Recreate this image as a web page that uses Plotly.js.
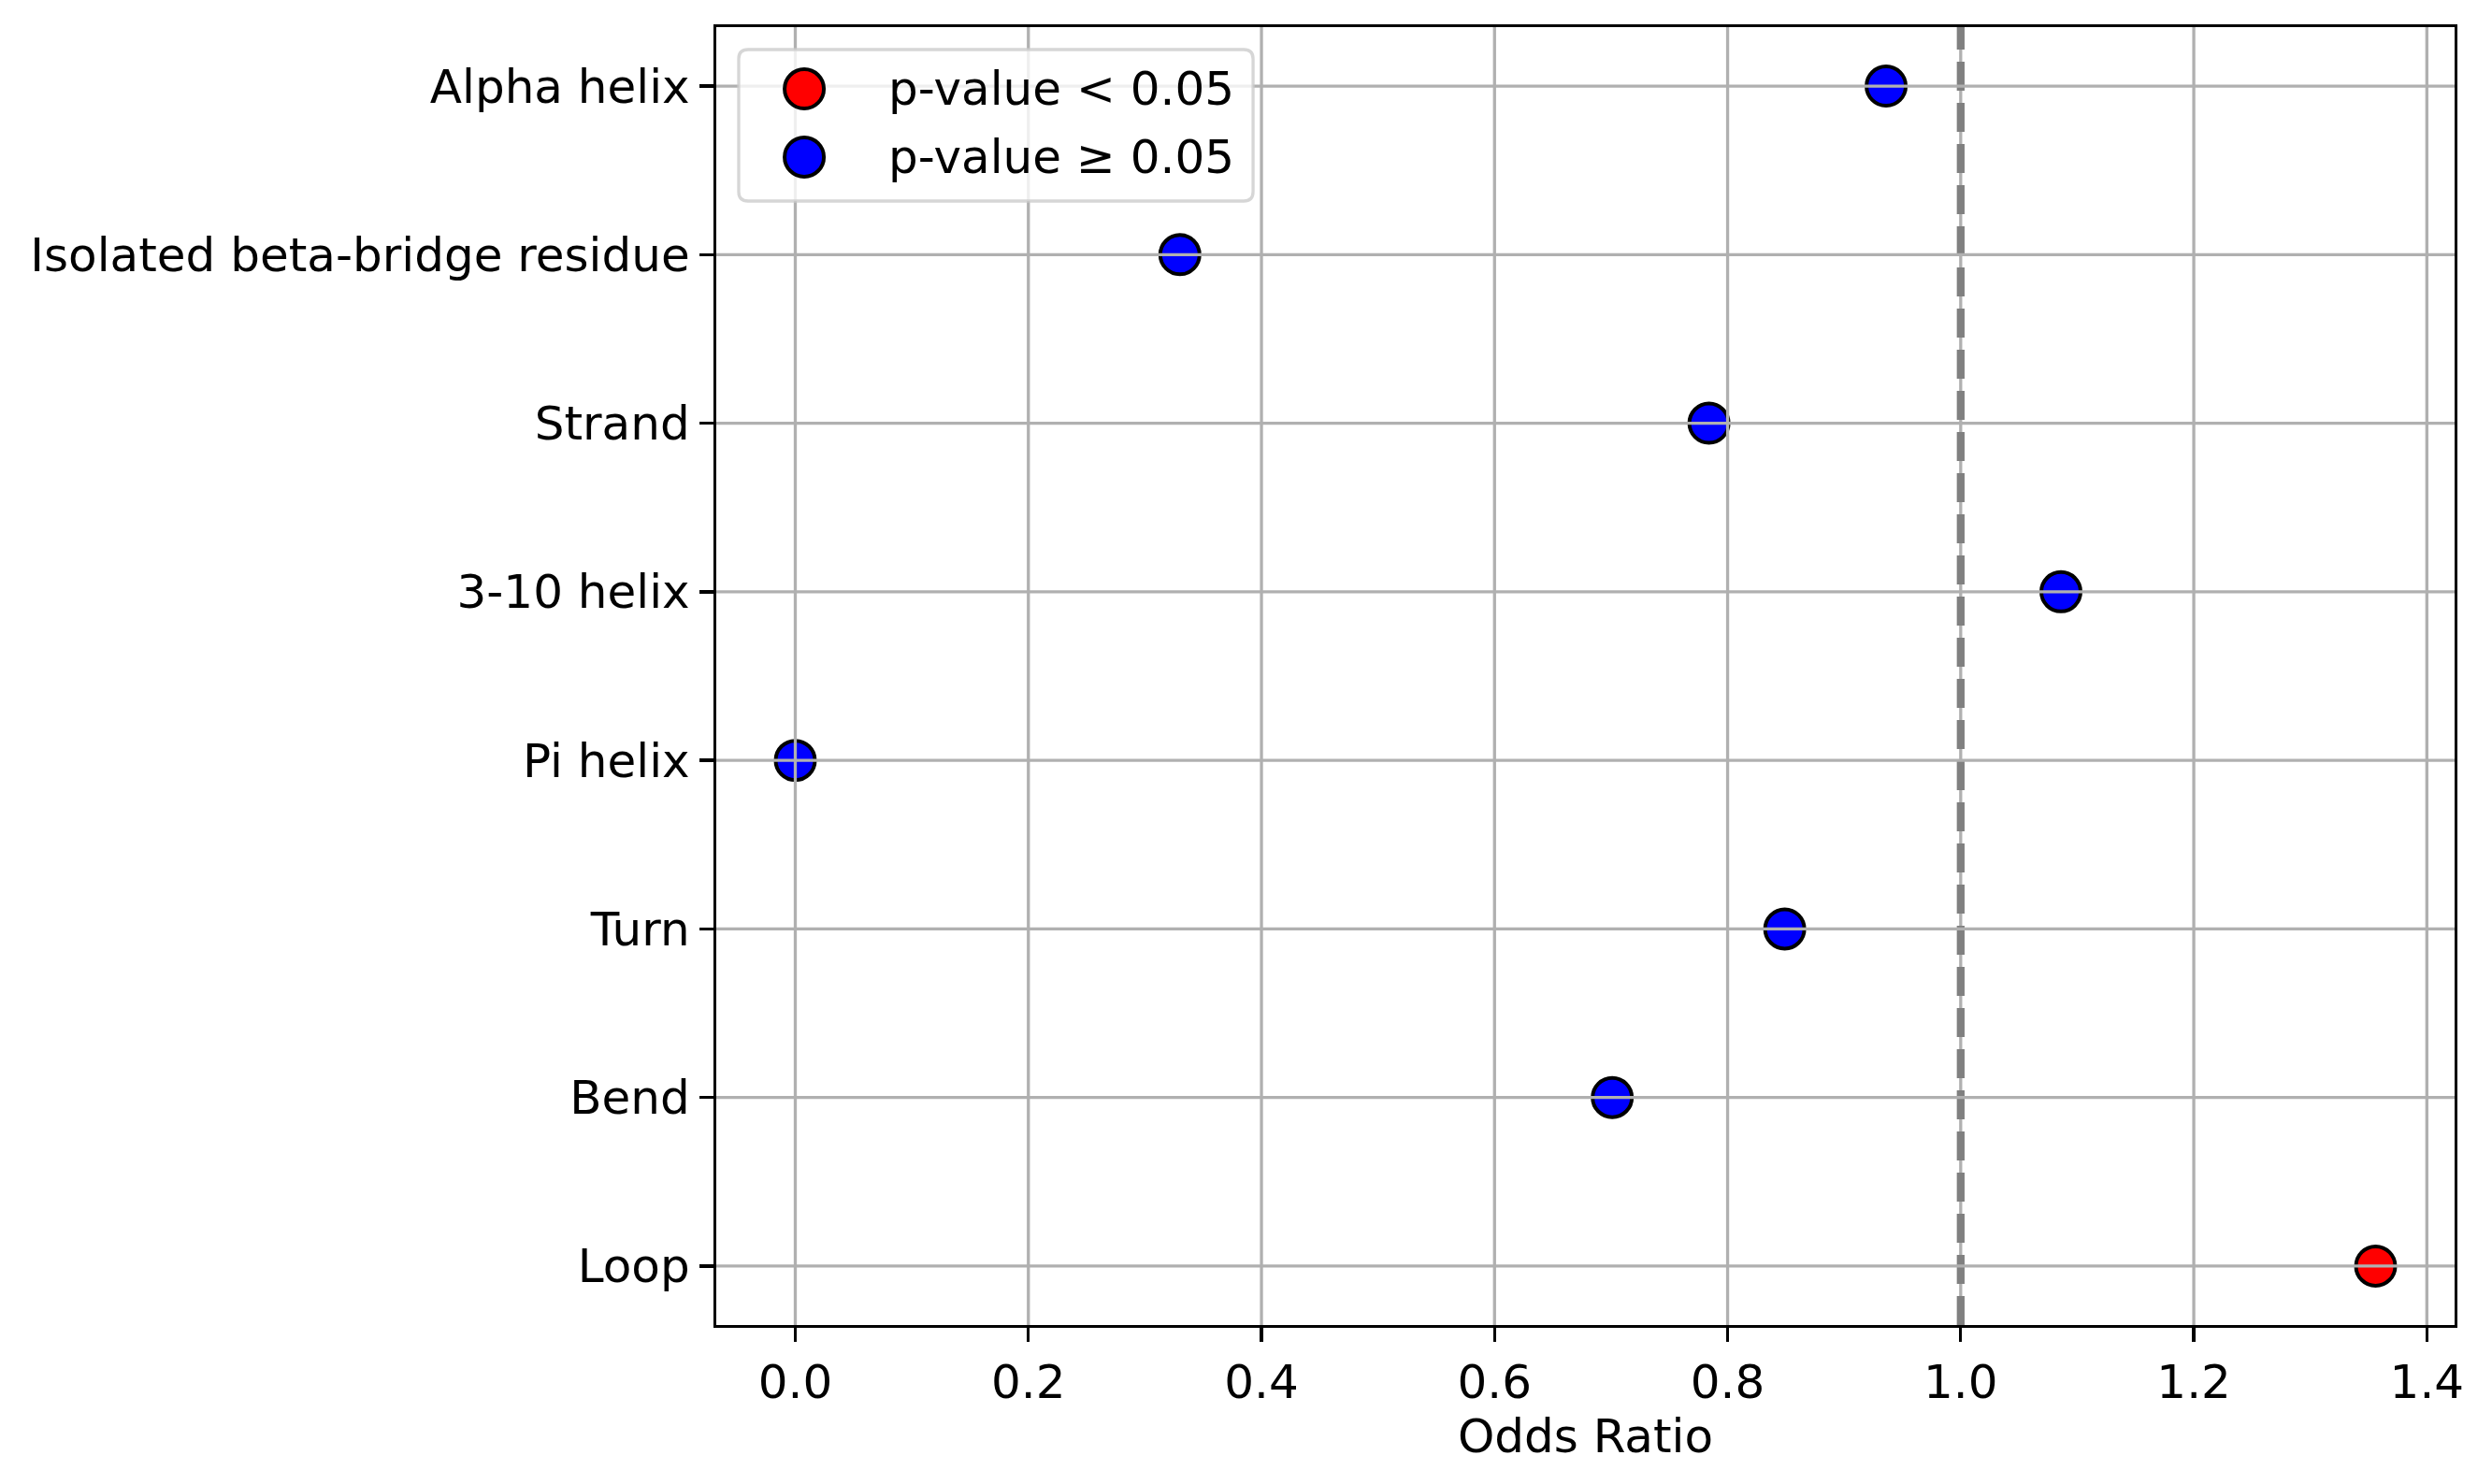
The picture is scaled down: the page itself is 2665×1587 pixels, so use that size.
<!DOCTYPE html>
<html>
<head>
<meta charset="utf-8">
<script src="https://cdn.plot.ly/plotly-3.0.1.min.js"></script>
<style>
  html, body { margin: 0; padding: 0; background: #ffffff; }
  #grafica { width: 2665px; height: 1587px; }
</style>
</head>
<body>
<div id="grafica"></div>
<script>
// datos (de arriba a abajo)
var categorias = ['Alpha helix', 'Isolated beta-bridge residue', 'Strand', '3-10 helix',
                  'Pi helix', 'Turn', 'Bend', 'Loop'];
var oddsRatio = [0.936, 0.330, 0.784, 1.086, 0.0, 0.849, 0.701, 1.356];
var significativo = [false, false, false, false, false, false, false, true];
var xTicks = [0.0, 0.2, 0.4, 0.6, 0.8, 1.0, 1.2, 1.4];
var etiquetasLeyenda = ['p-value < 0.05', 'p-value \u2265 0.05'];
var lineaReferencia = 1.0;

var fuente = { family: 'DejaVu Sans', size: 50, color: '#000000' };
var gris = '#b0b0b0';

// una traza por grupo de significancia
function crearTraza(sig, color) {
    var x = [], y = [];
    for (var i = 0; i < categorias.length; i++) {
        if (significativo[i] === sig) {
            x.push(oddsRatio[i]);
            y.push(categorias[i]);
        }
    }
    return {
        x: x, y: y,
        type: 'scatter',
        mode: 'markers',
        marker: { size: 42, color: color, line: { color: '#000000', width: 4 } },
        showlegend: false,
        hoverinfo: 'x+y'
    };
}

var data = [crearTraza(true, '#ff0000'), crearTraza(false, '#0000ff')];

// rejilla por encima de los puntos (como en la figura original)
var shapes = [];
xTicks.forEach(function (t) {
    shapes.push({
        type: 'line', layer: 'above',
        xref: 'x', yref: 'paper',
        x0: t, x1: t, y0: 0, y1: 1,
        line: { color: gris, width: 3.3 }
    });
});
// linea discontinua en OR = 1
shapes.push({
    type: 'line', layer: 'above',
    xref: 'x', yref: 'paper',
    x0: lineaReferencia, x1: lineaReferencia, y0: 0, y1: 1,
    line: { color: '#808080', width: 8.3, dash: '31px,13px' }
});
categorias.forEach(function (c) {
    shapes.push({
        type: 'line', layer: 'above',
        xref: 'paper', yref: 'y',
        x0: 0, x1: 1, y0: c, y1: c,
        line: { color: gris, width: 3.3 }
    });
});

// leyenda dibujada a mano para tener simbolos del mismo tamaño que en la figura
function rectRedondeado(x0, y0, x1, y1, rx, ry) {
    return 'M ' + (x0 + rx) + ',' + y1 +
        ' L ' + (x1 - rx) + ',' + y1 +
        ' Q ' + x1 + ',' + y1 + ' ' + x1 + ',' + (y1 - ry) +
        ' L ' + x1 + ',' + (y0 + ry) +
        ' Q ' + x1 + ',' + y0 + ' ' + (x1 - rx) + ',' + y0 +
        ' L ' + (x0 + rx) + ',' + y0 +
        ' Q ' + x0 + ',' + y0 + ' ' + x0 + ',' + (y0 + ry) +
        ' L ' + x0 + ',' + (y1 - ry) +
        ' Q ' + x0 + ',' + y1 + ' ' + (x0 + rx) + ',' + y1 + ' Z';
}
shapes.push({
    type: 'path', layer: 'above',
    xref: 'paper', yref: 'paper',
    path: rectRedondeado(0.0129, 0.8660, 0.3088, 0.9827, 0.0054, 0.0072),
    fillcolor: 'rgba(255,255,255,0.8)',
    line: { color: 'rgba(204,204,204,0.8)', width: 3.3 }
});
var filasLeyenda = [0.9524, 0.8999];
var coloresLeyenda = ['#ff0000', '#0000ff'];
var annotations = [];
for (var k = 0; k < etiquetasLeyenda.length; k++) {
    shapes.push({
        type: 'circle', layer: 'above',
        xref: 'paper', yref: 'paper',
        xsizemode: 'pixel', ysizemode: 'pixel',
        xanchor: 0.0506, yanchor: filasLeyenda[k],
        x0: -21, x1: 21, y0: -21, y1: 21,
        fillcolor: coloresLeyenda[k],
        line: { color: '#000000', width: 4 }
    });
    annotations.push({
        xref: 'paper', yref: 'paper',
        x: 0.0978, y: filasLeyenda[k],
        xanchor: 'left', yanchor: 'middle',
        text: etiquetasLeyenda[k],
        showarrow: false,
        font: fuente
    });
}

var layout = {
    width: 2665,
    height: 1587,
    paper_bgcolor: '#ffffff',
    plot_bgcolor: '#ffffff',
    font: fuente,
    margin: { l: 766, r: 40, t: 29, b: 170, pad: 0 },
    showlegend: false,
    xaxis: {
        range: [-0.0678, 1.4238],
        tickvals: xTicks,
        tickformat: '.1f',
        showgrid: false,
        zeroline: false,
        showline: true, mirror: true,
        linecolor: '#000000', linewidth: 3.3,
        ticks: 'outside', ticklen: 15, tickwidth: 3.3, tickcolor: '#000000',
        tickfont: fuente,
        title: { text: 'Odds Ratio', font: fuente, standoff: 8 },
        automargin: false
    },
    yaxis: {
        type: 'category',
        categoryorder: 'array',
        categoryarray: categorias.slice().reverse(),
        range: [-0.35, 7.35],
        showgrid: false,
        zeroline: false,
        showline: true, mirror: true,
        linecolor: '#000000', linewidth: 3.3,
        ticks: 'outside', ticklen: 15, tickwidth: 3.3, tickcolor: '#000000',
        tickfont: fuente,
        automargin: false
    },
    shapes: shapes,
    annotations: annotations
};

Plotly.newPlot('grafica', data, layout, { displayModeBar: false, staticPlot: true });
</script>
</body>
</html>
